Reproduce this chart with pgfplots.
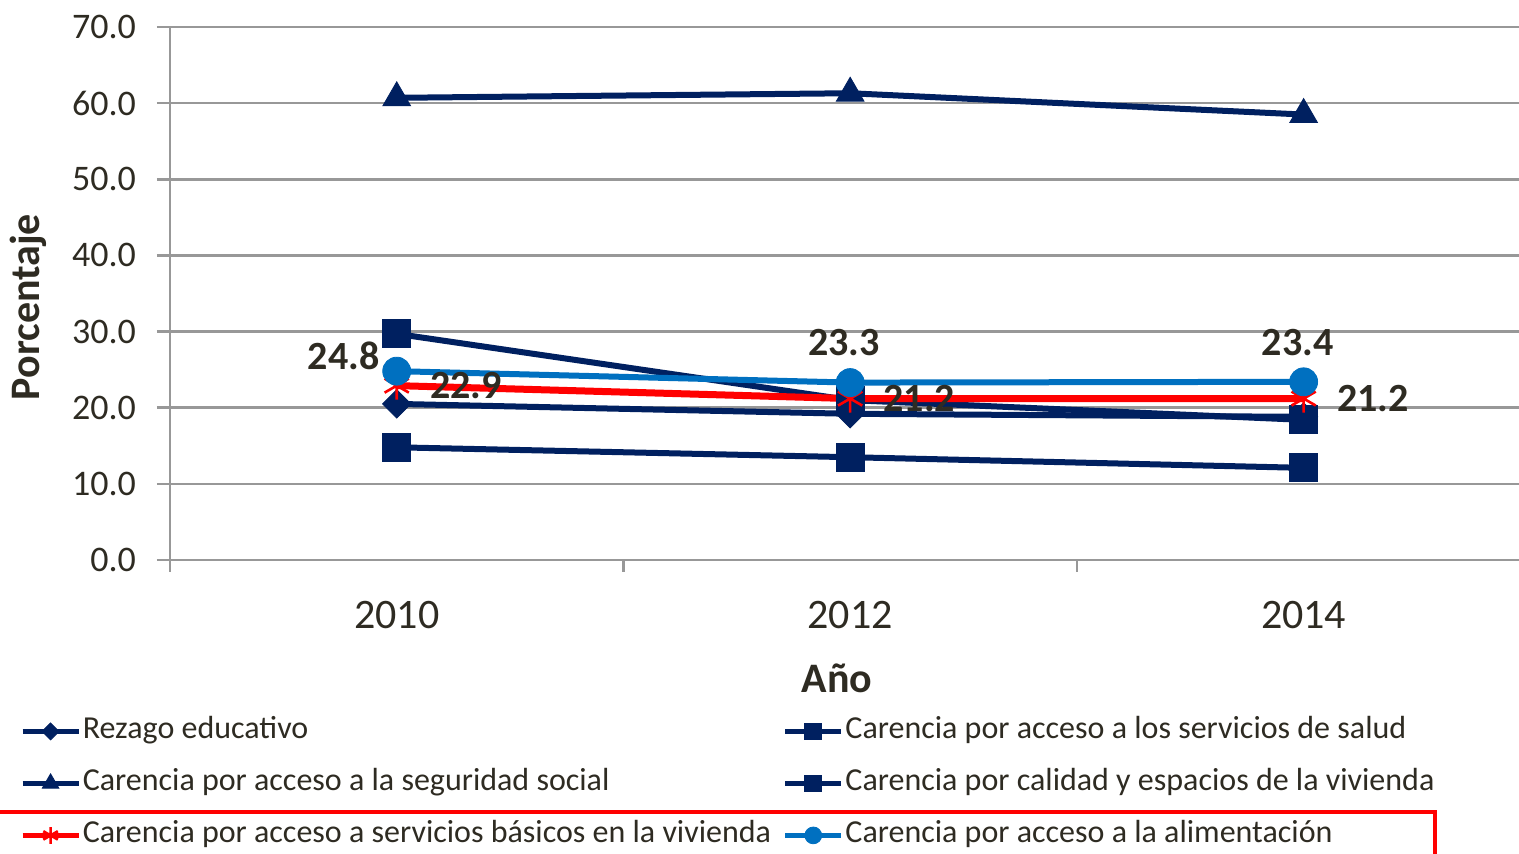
\documentclass[border=0pt]{standalone}
\usepackage{fontspec}
\setmainfont{Carlito}
\usepackage{pgfplots}
\pgfplotsset{compat=1.18}
\definecolor{navy}{RGB}{0,32,96}
\definecolor{lblue}{RGB}{0,112,192}
\definecolor{gridc}{RGB}{152,152,152}
\definecolor{textc}{RGB}{46,43,34}
\pgfplotsset{lbl/.style={draw=none, forget plot, nodes near coords,
  /pgf/number format/.cd, fixed, fixed zerofill, precision=1, assume math mode=true, /pgfplots/.cd,
  every node near coord/.append style={font=\bfseries\fontsize{20}{24}\selectfont,
    text=textc, inner sep=0pt}}}
\begin{document}
\begin{tikzpicture}
\fill[white] (-85pt,-147pt) rectangle (674.5pt,280pt);
\path[use as bounding box] (-85pt,-147pt) rectangle (674.5pt,280pt);
\begin{axis}[
  at={(0pt,0pt)}, anchor=south west,
  scale only axis, width=674.5pt, height=266.5pt,
  xmin=-0.5, xmax=2.475, ymin=0, ymax=70,
  clip=false,
  axis x line*=bottom, axis y line*=left,
  axis line style={gridc, line width=1.3pt, -},
  ytick={0,10,...,70},
  ymajorgrids, grid style={gridc, line width=1.3pt},
  tick style={gridc, line width=1.3pt},
  tick align=outside, major tick length=6.5pt, minor tick length=6pt,
  xtick={0,1,2}, xticklabels={2010,2012,2014},
  every major x tick/.append style={draw=none},
  minor xtick={-0.5,0.5,1.5},
  xticklabel style={font=\fontsize{21}{25}\selectfont, text=textc, yshift=-10.5pt},
  yticklabel style={font=\fontsize{18}{21}\selectfont, text=textc, xshift=-7pt,
    /pgf/number format/.cd, fixed, fixed zerofill, precision=1, assume math mode=true},
  xlabel={Año},
  xlabel style={font=\bfseries\fontsize{21}{25}\selectfont, text=textc,
    at={(axis description cs:0.4945,0)}, anchor=center, yshift=-59pt},
  ylabel={Porcentaje},
  ylabel style={font=\bfseries\fontsize{21}{25}\selectfont, text=textc,
    at={(axis description cs:-0.1053,0.4747)}, anchor=center},
  legend columns=2,
  legend style={at={(axis description cs:-0.1112,-0.2927)}, anchor=north west,
    draw=none, fill=none, inner sep=0pt, row sep=11pt,
    font=\fontsize{16}{19}\selectfont, text=textc,
    nodes={text height=11pt, text depth=4pt, inner sep=0pt},
    /tikz/every odd column/.append style={column sep=1pt},
    /tikz/every even column/.append style={column sep=6pt}},
  legend cell align=left,
  legend image code/.code={\draw[mark repeat=2, mark phase=2, #1, line width=2.2pt,
    every mark/.append style={scale=0.6}] plot coordinates {(0pt,0pt) (14pt,0pt) (28pt,0pt)};},
]
% Rezago educativo
\addplot[navy, line width=3pt, mark=square*, mark size=5pt,
  mark options={rotate=45, line width=0.4pt, fill=navy}]
  coordinates {(0,20.5) (1,19.2) (2,18.8)};
\addlegendentry{Rezago educativo}
% Salud
\addplot[navy, line width=3pt, mark=square*, mark size=7pt,
  mark options={line width=0.4pt, fill=navy}]
  coordinates {(0,29.7) (1,21.0) (2,18.4)};
\addlegendentry{Carencia por acceso a los servicios de salud}
% Seguridad social
\addplot[navy, line width=3pt, mark=triangle*, mark size=8pt,
  mark options={line width=0.4pt, fill=navy}]
  coordinates {(0,60.7) (1,61.3) (2,58.5)};
\addlegendentry{Carencia por acceso a la seguridad social}
% Calidad y espacios
\addplot[navy, line width=3pt, mark=square*, mark size=7pt,
  mark options={line width=0.4pt, fill=navy}]
  coordinates {(0,14.8) (1,13.5) (2,12.1)};
\addlegendentry{Carencia por calidad y espacios de la vivienda}
% Servicios basicos
\addplot[red, line width=3.5pt, mark=asterisk, mark size=7pt,
  mark options={line width=1.3pt}]
  coordinates {(0,22.9) (1,21.2) (2,21.2)};
\addlegendentry{Carencia por acceso a servicios básicos en la vivienda}
% Alimentacion
\addplot[lblue, line width=3pt, mark=*, mark size=7pt,
  mark options={line width=0.4pt, fill=lblue}]
  coordinates {(0,24.8) (1,23.3) (2,23.4)};
\addlegendentry{Carencia por acceso a la alimentación}
% data labels
\addplot[lbl, every node near coord/.append style={anchor=west, xshift=16.5pt}]
  coordinates {(0,22.9) (1,21.2) (2,21.2)};
\addplot[lbl, every node near coord/.append style={anchor=south, yshift=13pt, xshift=-3pt}]
  coordinates {(1,23.3) (2,23.4)};
\addplot[lbl, every node near coord/.append style={anchor=east, xshift=-8.5pt, yshift=7.5pt}]
  coordinates {(0,24.8)};
\end{axis}
\draw[red, line width=2pt] (-95pt,-126pt) rectangle (632.5pt,-165pt);
\end{tikzpicture}
\end{document}
